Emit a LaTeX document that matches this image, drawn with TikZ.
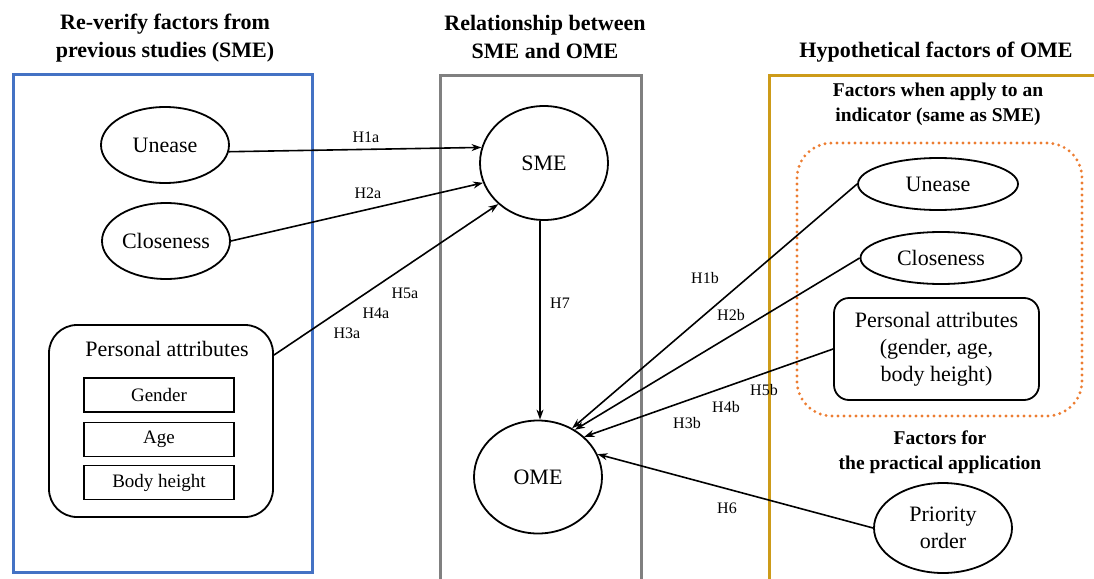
\documentclass[tikz,border=0pt]{standalone}
\usepackage{fontspec}
\setmainfont{Liberation Serif}
\usetikzlibrary{shapes.geometric,arrows.meta,calc}
\definecolor{boxblue}{HTML}{4472C4}
\definecolor{boxgray}{HTML}{808080}
\definecolor{boxgold}{HTML}{CD9B19}
\definecolor{dotorange}{HTML}{ED7D31}
\begin{document}
\begin{tikzpicture}[x=1pt,y=-1pt,
  ell/.style={ellipse, draw, line width=1.8pt, inner sep=0pt, align=center, font=\fontsize{22}{27}\selectfont},
  rbox/.style={rectangle, draw, line width=1.8pt, inner sep=0pt, align=center, font=\fontsize{22}{27}\selectfont},
  subbox/.style={rectangle, draw, line width=1.8pt, inner sep=0pt, minimum width=150, minimum height=34, font=\fontsize{19}{22}\selectfont},
  title/.style={align=center, font=\bfseries\fontsize{22}{28}\selectfont},
  subtitle/.style={align=center, font=\bfseries\fontsize{19.5}{25}\selectfont},
  hl/.style={inner sep=0pt, font=\fontsize{16}{18}\selectfont},
  arr/.style={-{Stealth[length=10pt,width=7pt]}, line width=1.6pt},
  frame/.style={line width=3pt}
]
\clip (0,0) rectangle (1094,578);
\fill[white] (0,0) rectangle (1094,578);

% titles
\node[title] (t1) at (165,38) {Re-verify factors from\\previous studies (SME)};
\node[title] (t2) at (545,37) {Relationship between\\SME and OME};
\node[title] (t3) at (936,52) {Hypothetical factors of OME};
\node[subtitle] (t4) at (938,104.5) {Factors when apply to an\\indicator (same as SME)};
\node[subtitle] (t5) at (940,452.5) {Factors for\\the practical application};

% frames
\draw[frame, boxblue] (13,74) rectangle (312,572);
\draw[frame, boxgray] (440,600) -- (440,75) -- (641,75) -- (641,600);
\draw[frame, boxgold] (769,600) -- (769,75) -- (1100,75);
\draw[dotorange, line width=3.2pt, line cap=round, dash pattern=on 0pt off 6pt, rounded corners=35pt] (797,143) rectangle (1082,416);

% left nodes
\node[ell, minimum width=128, minimum height=76] (lu) at (165,145) {Unease};
\node[ell, minimum width=128, minimum height=76] (lc) at (166,241) {Closeness};
\node[rbox, rounded corners=28pt, minimum width=224, minimum height=192] (pa) at (161,421) {};
\node[inner sep=0pt, font=\fontsize{22}{27}\selectfont] (patitle) at (167,349) {Personal attributes};
\node[subbox] (gender) at (159,395) {Gender};
\node[subbox] (age) at (159,439.5) {Age};
\node[subbox] (body) at (159,482.5) {Body height};

% middle nodes
\node[ell, minimum width=128, minimum height=114] (sme) at (544,163) {SME};
\node[ell, minimum width=128, minimum height=113] (ome) at (538,477) {OME};
\coordinate (h7x) at (540,0);

% right nodes
\node[ell, minimum width=160, minimum height=52] (ru) at (938,184) {Unease};
\node[ell, minimum width=161, minimum height=52] (rc) at (941,258) {Closeness};
\node[rbox, rounded corners=15pt, minimum width=205, minimum height=102] (rpa) at (936.5,349) {Personal attributes\\(gender, age,\\body height)};
\node[ell, minimum width=138, minimum height=90] (po) at (943,528) {Priority\\order};

% connectors
\draw[arr] (lu.-6) -- (sme.166);
\draw[arr] (lc.east) -- (sme.198);
\draw[arr] ($(pa.north east)+(0,31)$) -- (sme.222);
\draw[arr] (sme.south -| h7x) -- (ome.north -| h7x);
\draw[arr] (ru.west) -- (ome.55);
\draw[arr] (rc.west) -- (ome.52.6);
\draw[arr] (rpa.west) -- (ome.41.8);
\draw[arr] (po.west) -- (ome.21.3);

% labels
\node[hl] (h1a) at (366,137) {H1a};
\node[hl] (h2a) at (368,193) {H2a};
\node[hl] (h5a) at (405,293) {H5a};
\node[hl] (h4a) at (376,313) {H4a};
\node[hl] (h3a) at (347,333) {H3a};
\node[hl] (h7) at (560,303) {H7};
\node[hl] (h1b) at (705,278) {H1b};
\node[hl] (h2b) at (731,315) {H2b};
\node[hl] (h5b) at (764,390) {H5b};
\node[hl] (h4b) at (726,407) {H4b};
\node[hl] (h3b) at (687,423) {H3b};
\node[hl] (h6) at (727,508) {H6};
\end{tikzpicture}
\end{document}
